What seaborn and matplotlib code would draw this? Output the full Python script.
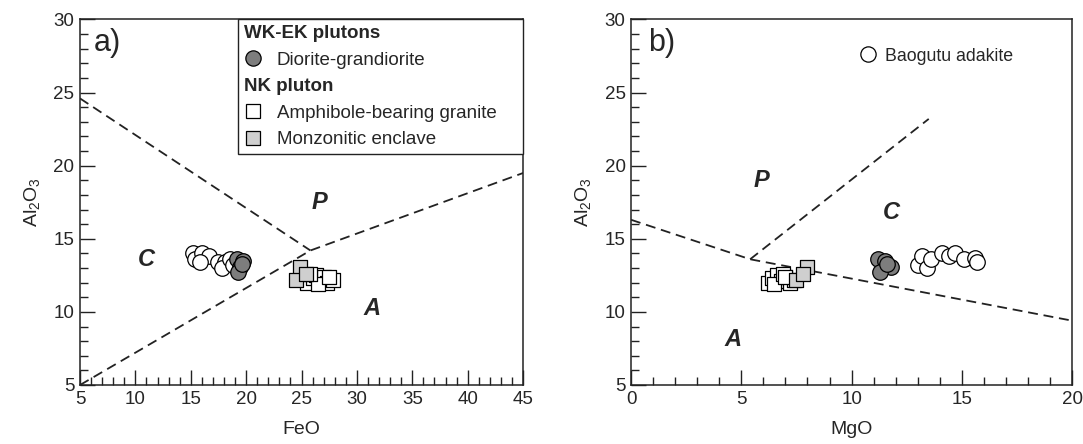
import matplotlib
matplotlib.use("Agg")
import matplotlib.pyplot as plt
import seaborn as sns
import pandas as pd
from matplotlib.lines import Line2D
from matplotlib.ticker import MultipleLocator

# ---------------- data ----------------
# Baogutu adakite (white circles)
bao_feo = [15.2, 15.4, 16.0, 16.6, 15.8, 17.5, 18.1, 17.8, 18.5, 18.8]
bao_mgo = [13.0, 13.2, 13.4, 13.6, 14.1, 14.4, 14.7, 15.1, 15.6, 15.7]
bao_al_a = [14.0, 13.6, 14.0, 13.8, 13.4, 13.4, 13.4, 13.0, 13.6, 13.2]
bao_al_b = [13.2, 13.8, 13.0, 13.6, 14.0, 13.8, 14.0, 13.6, 13.7, 13.4]

# WK-EK plutons: Diorite-grandiorite (grey circles)
dio_feo = [19.2, 19.7, 19.4, 19.3, 19.6]
dio_mgo = [11.2, 11.5, 11.8, 11.3, 11.6]
dio_al = [13.6, 13.5, 13.1, 12.7, 13.3]

# NK pluton: Amphibole-bearing granite (white squares)
amp_feo = [25.5, 26.0, 26.3, 26.8, 27.0, 27.3, 27.8, 26.5, 25.8, 27.5]
amp_mgo = [6.2, 6.4, 6.6, 6.8, 7.0, 7.2, 7.4, 6.5, 6.9, 7.0]
amp_al = [12.0, 12.3, 12.5, 12.1, 12.4, 12.0, 12.2, 11.9, 12.6, 12.4]

# NK pluton: Monzonitic enclave (light grey squares)
mon_feo = [24.9, 24.5, 25.4]
mon_mgo = [8.0, 7.5, 7.8]
mon_al = [13.1, 12.2, 12.6]

# Field boundaries (dashed)
a_line1_x = [5, 25.8]
a_line1_y = [24.6, 14.2]
a_line2_x = [5, 25.8, 45]
a_line2_y = [5, 14.2, 19.5]
b_line1_x = [0, 5.4, 20]
b_line1_y = [16.3, 13.6, 9.4]
b_line2_x = [5.4, 13.5]
b_line2_y = [13.6, 23.2]

xticks_a = [5, 10, 15, 20, 25, 30, 35, 40, 45]
xticks_b = [0, 5, 10, 15, 20]
yticks = [5, 10, 15, 20, 25, 30]

# ---------------- style ----------------
sns.set_style("ticks")
plt.rcParams["font.family"] = ["Liberation Sans", "DejaVu Sans"]
plt.rcParams["mathtext.default"] = "regular"

fig = plt.figure(figsize=(10.83, 4.44), dpi=100)
axA = fig.add_axes([0.0739, 0.1329, 0.4091, 0.8232])
axB = fig.add_axes([0.5827, 0.1329, 0.4072, 0.8232])

CIRC_S = 125
SQ_S = 110
GREY = "#7d7d7d"
LGREY = "#cfcfcf"
dash = (0, (5.5, 3.2))


def style_axes(ax, xticks, xlabel):
    ax.set_xlim(xticks[0], xticks[-1])
    ax.set_ylim(5, 30)
    ax.set_xticks(xticks)
    ax.set_yticks(yticks)
    ax.xaxis.set_minor_locator(MultipleLocator(1))
    ax.yaxis.set_minor_locator(MultipleLocator(1))
    ax.tick_params(which="both", direction="in", top=False, right=False,
                   color="#222222", width=1, labelsize=13.5, pad=4)
    ax.tick_params(which="major", length=11)
    ax.tick_params(which="minor", length=6)
    for sp in ax.spines.values():
        sp.set_visible(True)
        sp.set_linewidth(1.1)
        sp.set_color("#222222")
    ax.set_xlabel(xlabel, fontsize=14, labelpad=10)
    ax.set_ylabel("Al$_2$O$_3$", fontsize=14, labelpad=8)


def scat(ax, x, y, marker, face, s):
    df = pd.DataFrame({"x": x, "y": y})
    sns.scatterplot(data=df, x="x", y="y", marker=marker, s=s, color=face,
                    edgecolor="black", linewidth=0.9, ax=ax, legend=False,
                    zorder=3)


# ---------------- panel a ----------------
axA.plot(a_line1_x, a_line1_y, color="#222222", lw=1.3, ls=dash)
axA.plot(a_line2_x, a_line2_y, color="#222222", lw=1.3, ls=dash)
scat(axA, bao_feo, bao_al_a, "o", "white", CIRC_S)
scat(axA, dio_feo, dio_al, "o", GREY, CIRC_S)
scat(axA, amp_feo, amp_al, "s", "white", SQ_S)
scat(axA, mon_feo, mon_al, "s", LGREY, SQ_S)
style_axes(axA, xticks_a, "FeO")

axA.text(6.2, 28.4, "a)", fontsize=22, va="center", ha="left")
lbl = dict(fontsize=17, fontweight="bold", fontstyle="italic", ha="center", va="center")
axA.text(11.0, 13.6, "C", **lbl)
axA.text(26.6, 17.5, "P", **lbl)
axA.text(31.4, 10.2, "A", **lbl)

empty = Line2D([], [], linestyle="none", marker=None)
handles = [
    empty,
    Line2D([], [], linestyle="none", marker="o", markersize=11,
           markerfacecolor=GREY, markeredgecolor="black", markeredgewidth=0.9),
    empty,
    Line2D([], [], linestyle="none", marker="s", markersize=10,
           markerfacecolor="white", markeredgecolor="black", markeredgewidth=0.9),
    Line2D([], [], linestyle="none", marker="s", markersize=10,
           markerfacecolor=LGREY, markeredgecolor="black", markeredgewidth=0.9),
]
labels = ["WK-EK plutons", "Diorite-grandiorite", "NK pluton",
          "Amphibole-bearing granite", "Monzonitic enclave"]
leg = axA.legend(handles, labels, loc="upper left",
                 bbox_to_anchor=(0.357, 0.0, 0.643, 1.0), mode="expand",
                 borderaxespad=0.0, frameon=True, fancybox=False, fontsize=13.5,
                 handlelength=1.0, handletextpad=0.75, labelspacing=0.5,
                 borderpad=0.3)
leg.get_frame().set_edgecolor("#222222")
leg.get_frame().set_linewidth(1.0)
leg.get_frame().set_alpha(1)
for i in (0, 2):
    leg.get_texts()[i].set_fontweight("bold")
# left-align header rows with the markers
hbox = leg._legend_handle_box
for col in hbox.get_children():
    for row in col.get_children():
        txt = row.get_children()[1]
        if txt.get_children()[0].get_text() in ("WK-EK plutons", "NK pluton"):
            row.get_children()[0].width = 0
            row.sep = 0

# ---------------- panel b ----------------
axB.plot(b_line1_x, b_line1_y, color="#222222", lw=1.3, ls=dash)
axB.plot(b_line2_x, b_line2_y, color="#222222", lw=1.3, ls=dash)
scat(axB, bao_mgo, bao_al_b, "o", "white", CIRC_S)
scat(axB, dio_mgo, dio_al, "o", GREY, CIRC_S)
scat(axB, amp_mgo, amp_al, "s", "white", SQ_S)
scat(axB, mon_mgo, mon_al, "s", LGREY, SQ_S)
style_axes(axB, xticks_b, "MgO")

axB.text(0.75, 28.4, "b)", fontsize=22, va="center", ha="left")
axB.text(5.9, 19.0, "P", **lbl)
axB.text(11.8, 16.8, "C", **lbl)
axB.text(4.6, 8.1, "A", **lbl)

legB = axB.legend([Line2D([], [], linestyle="none", marker="o", markersize=11,
                          markerfacecolor="white", markeredgecolor="black",
                          markeredgewidth=0.9)],
                  ["Baogutu adakite"], loc="center left",
                  bbox_to_anchor=(0.497, 0.9), borderpad=0.0, frameon=False,
                  fontsize=12.8, handlelength=1.0, handletextpad=0.45)

fig.savefig("out.png", dpi=100)
